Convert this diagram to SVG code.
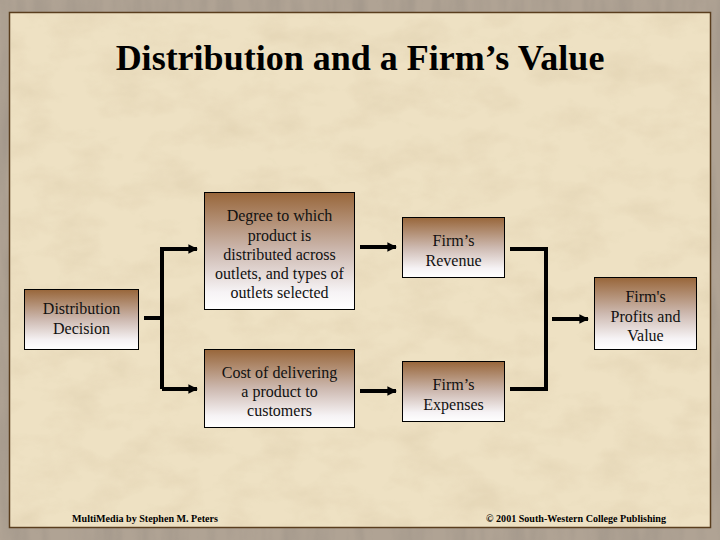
<svg xmlns="http://www.w3.org/2000/svg" width="720" height="540" viewBox="0 0 720 540">
<defs>
<linearGradient id="boxfill" x1="0" y1="0" x2="0" y2="1">
<stop offset="0" stop-color="#98663a"/>
<stop offset="0.5" stop-color="#cdb9b0"/>
<stop offset="0.85" stop-color="#f6f3f5"/>
<stop offset="1" stop-color="#ffffff"/>
</linearGradient>
<filter id="paper" x="0" y="0" width="100%" height="100%">
<feTurbulence type="fractalNoise" baseFrequency="0.02 0.035" numOctaves="4" seed="7" result="n"/>
<feColorMatrix in="n" type="matrix" values="0 0 0 0 0.6  0 0 0 0 0.48  0 0 0 0 0.3  0 0 0 1.1 -0.45" result="c"/>
<feComposite in="c" in2="SourceGraphic" operator="in"/>
</filter>
<filter id="frame" x="0" y="0" width="100%" height="100%">
<feTurbulence type="fractalNoise" baseFrequency="0.06 0.01" numOctaves="3" seed="3" result="n"/>
<feColorMatrix in="n" type="matrix" values="0 0 0 0 0.35  0 0 0 0 0.3  0 0 0 0 0.25  0 0 0 1.4 -0.5" result="c"/>
<feComposite in="c" in2="SourceGraphic" operator="in"/>
</filter>
<marker id="arrow" viewBox="0 0 10 10" refX="9" refY="5" markerWidth="2.4" markerHeight="2.6" orient="auto" markerUnits="strokeWidth">
<path d="M0,0 L10,5 L0,10 z" fill="#000"/>
</marker>
<style>
.box{fill:url(#boxfill);stroke:#000;stroke-width:1}
.lbl{font-family:"Liberation Serif","Times New Roman",serif;font-size:16px;fill:#111;text-anchor:middle}
.title{font-family:"Liberation Serif","Times New Roman",serif;font-size:36px;font-weight:bold;fill:#000;text-anchor:middle}
.foot{font-family:"Liberation Serif","Times New Roman",serif;font-size:10px;font-weight:bold;fill:#000}
.conn{fill:none;stroke:#000;stroke-width:4;stroke-linejoin:miter;stroke-linecap:butt}
</style>
</defs>
<rect x="0" y="0" width="720" height="540" fill="#b0a394"/>
<rect x="0" y="0" width="720" height="540" fill="#b0a394" filter="url(#frame)"/>
<rect x="9.5" y="12.5" width="701" height="515" fill="#eee1c3" stroke="#5a3e1e" stroke-width="1.5"/>
<rect x="11" y="14" width="698" height="512" fill="#eee1c3" filter="url(#paper)" opacity="0.45"/>

<text class="title" x="360" y="70">Distribution and a Firm’s Value</text>

<g id="connectors">
<path class="conn" d="M144,318 H162"/>
<path class="conn" d="M162,389 V249 H197" marker-end="url(#arrow)"/>
<path class="conn" d="M162,389 H197" marker-end="url(#arrow)"/>
<path class="conn" d="M360,247 H396" marker-end="url(#arrow)"/>
<path class="conn" d="M360,391 H396" marker-end="url(#arrow)"/>
<path class="conn" d="M510,249 H546 V389 H510"/>
<path class="conn" d="M552,319 H588" marker-end="url(#arrow)"/>
</g>

<g id="distribution-decision">
<rect class="box" x="24.5" y="289.5" width="114" height="60"/>
<text class="lbl" x="81.5" y="313.5">Distribution</text>
<text class="lbl" x="81.5" y="333.5">Decision</text>
</g>

<g id="degree">
<rect class="box" x="204.5" y="192.5" width="150" height="117"/>
<text class="lbl" x="279.5" y="221">Degree to which</text>
<text class="lbl" x="279.5" y="240.5">product is</text>
<text class="lbl" x="279.5" y="260">distributed across</text>
<text class="lbl" x="279.5" y="279">outlets, and types of</text>
<text class="lbl" x="279.5" y="298">outlets selected</text>
</g>

<g id="cost">
<rect class="box" x="204.5" y="349.5" width="150" height="78"/>
<text class="lbl" x="279.5" y="378">Cost of delivering</text>
<text class="lbl" x="279.5" y="397">a product to</text>
<text class="lbl" x="279.5" y="416">customers</text>
</g>

<g id="revenue">
<rect class="box" x="402.5" y="217.5" width="102" height="60"/>
<text class="lbl" x="453.5" y="246">Firm’s</text>
<text class="lbl" x="453.5" y="266">Revenue</text>
</g>

<g id="expenses">
<rect class="box" x="402.5" y="361.5" width="102" height="60"/>
<text class="lbl" x="453.5" y="390">Firm’s</text>
<text class="lbl" x="453.5" y="409.5">Expenses</text>
</g>

<g id="profits">
<rect class="box" x="594.5" y="277.5" width="102" height="72"/>
<text class="lbl" x="645.5" y="301.5">Firm's</text>
<text class="lbl" x="645.5" y="321.5">Profits and</text>
<text class="lbl" x="645.5" y="340.5">Value</text>
</g>

<text class="foot" x="72" y="522" textLength="146" lengthAdjust="spacingAndGlyphs">MultiMedia by Stephen M. Peters</text>
<text class="foot" x="486" y="522" textLength="180" lengthAdjust="spacingAndGlyphs">© 2001 South-Western College Publishing</text>
</svg>
